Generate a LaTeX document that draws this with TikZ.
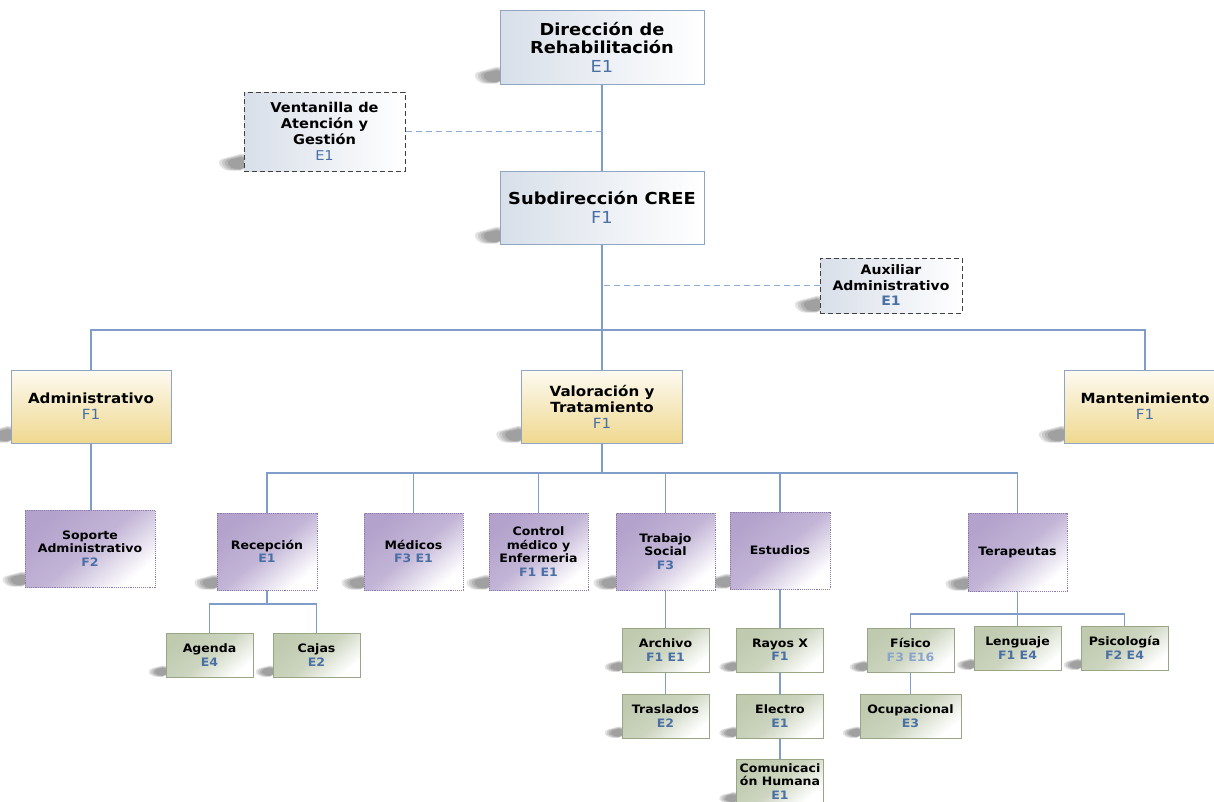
\documentclass[tikz,border=0pt]{standalone}
\usepackage{fontspec}
\setmainfont{DejaVu Sans}[FakeStretch=1.08]
\usetikzlibrary{calc,backgrounds}
\definecolor{lineblue}{HTML}{7F9DC8}
\definecolor{dashblue}{HTML}{8FAAD4}
\definecolor{codeblue}{HTML}{4A6FA5}
\definecolor{lightcode}{HTML}{8AA4CC}
\definecolor{topborder}{HTML}{8FA5C2}
\definecolor{topfill}{HTML}{D8DFE9}
\definecolor{yelfill}{HTML}{EFD88F}
\definecolor{purfill}{HTML}{B3A2CC}
\definecolor{purborder}{HTML}{8C7BAA}
\definecolor{grnfill}{HTML}{BFCAAF}
\definecolor{grnborder}{HTML}{98A687}
\newcommand\cn[1]{{\mdseries\color{codeblue}#1}}
\newcommand\cb[1]{{\color{codeblue}#1}}
\newcommand\boxshadow[2]{%
  \foreach \k in {0,1,2,3}{%
    \fill[black, opacity=0.11, rounded corners=5pt]
      ($(#1.south west)+(2,{-(19-1.2*\k)*#2})$) --
      ($(#1.south west)+({(-27+3*\k)*#2},{-11*#2})$) --
      ($(#1.south west)+({(-20+2.5*\k)*#2},{-(1+0.5*\k)*#2})$) --
      ($(#1.south west)+(2,{-(1+0.5*\k)*#2})$) -- cycle;}}
\tikzset{
  every node/.style={align=center, inner sep=1pt},
  topbox/.style={draw=topborder, line width=1pt, left color=topfill, right color=white,
    font=\fontsize{16.5}{18.5}\selectfont\bfseries},
  sidebox/.style={draw=black!75, dash pattern=on 5pt off 3pt, line width=1pt, left color=topfill, right color=white,
    font=\fontsize{13.5}{16}\selectfont\bfseries},
  yelbox/.style={draw=topborder, line width=1pt, top color=yelfill!12, bottom color=yelfill,
    font=\fontsize{14}{16}\selectfont\bfseries},
  purbox/.style={draw=purborder, densely dotted, line width=0.9pt, top color=purfill,
    bottom color=white, middle color=purfill!80, shading angle=40, font=\fontsize{11.6}{13.5}\selectfont\bfseries},
  grnbox/.style={draw=grnborder, line width=1pt, top color=grnfill, bottom color=white,
    middle color=grnfill!80, shading angle=40, font=\fontsize{11.6}{13.5}\selectfont\bfseries},
  conn/.style={draw=lineblue, line width=1.1pt},
  dconn/.style={draw=dashblue, line width=1.2pt, dash pattern=on 6pt off 4pt},
}
\begin{document}
\begin{tikzpicture}[x=1pt,y=-1pt]
\useasboundingbox (0,0) rectangle (1214,801);
% level 0
\node[topbox, minimum width=204, minimum height=74] (dir) at (602,47) {Dirección de\\Rehabilitación\\\cn{E1}};
\node[sidebox, minimum width=161, minimum height=79] (ven) at (324.5,131.5) {Ventanilla de\\Atención y\\Gestión\\\cn{E1}};
\node[topbox, minimum width=204, minimum height=73] (sub) at (602,207.5) {Subdirección CREE\\\cn{F1}};
\node[sidebox, minimum width=142, minimum height=55, font=\fontsize{13}{15.5}\selectfont\bfseries] (aux) at (891,285.5) {Auxiliar\\Administrativo\\\cb{E1}};
% level 1
\node[yelbox, minimum width=160, minimum height=73] (adm) at (91,406.5) {Administrativo\\\cn{F1}};
\node[yelbox, minimum width=161, minimum height=73] (val) at (602,406.5) {Valoración y\\Tratamiento\\\cn{F1}};
\node[yelbox, minimum width=162, minimum height=73] (man) at (1145,406.5) {Mantenimiento\\\cn{F1}};
% level 2
\node[purbox, minimum width=130, minimum height=77] (sop) at (90,548.5) {Soporte\\Administrativo\\\cb{F2}};
\node[purbox, minimum width=100, minimum height=77] (rec) at (267,551.5) {Recepción\\\cb{E1}};
\node[purbox, minimum width=99, minimum height=77] (med) at (413.5,551.5) {Médicos\\\cb{F3 E1}};
\node[purbox, minimum width=99, minimum height=77] (ctl) at (538.5,551.5) {Control\\médico y\\Enfermeria\\\cb{F1 E1}};
\node[purbox, minimum width=99, minimum height=77] (tra) at (665.5,551.5) {Trabajo\\Social\\\cb{F3}};
\node[purbox, minimum width=100, minimum height=77] (est) at (780,550.5) {Estudios};
\node[purbox, minimum width=99, minimum height=78] (ter) at (1017.5,552) {Terapeutas};
% level 3
\node[grnbox, minimum width=87, minimum height=44] (age) at (209.5,655) {Agenda\\\cb{E4}};
\node[grnbox, minimum width=87, minimum height=44] (caj) at (316.5,655) {Cajas\\\cb{E2}};
\node[grnbox, minimum width=87, minimum height=44] (arc) at (665.5,650) {Archivo\\\cb{F1 E1}};
\node[grnbox, minimum width=87, minimum height=44] (tras) at (665.5,716) {Traslados\\\cb{E2}};
\node[grnbox, minimum width=87, minimum height=44] (ray) at (780,650) {Rayos X\\\cb{F1}};
\node[grnbox, minimum width=87, minimum height=44] (ele) at (780,716) {Electro\\\cb{E1}};
\node[grnbox, minimum width=87, minimum height=44] (com) at (780,781.5) {Comunicaci\\ón Humana\\\cb{E1}};
\node[grnbox, minimum width=87, minimum height=44] (fis) at (910.5,650) {Físico\\{\color{lightcode}F3 E16}};
\node[grnbox, minimum width=87, minimum height=44] (len) at (1017.5,648) {Lenguaje\\\cb{F1 E4}};
\node[grnbox, minimum width=87, minimum height=44] (psi) at (1124.5,648) {Psicología\\\cb{F2 E4}};
\node[grnbox, minimum width=101, minimum height=44] (ocu) at (910.5,716) {Ocupacional\\\cb{E3}};
% shadows
\begin{scope}[on background layer]
\foreach \n in {dir,ven,sub,aux,adm,val,man}{\boxshadow{\n}{1}}
\foreach \n in {sop,rec,med,ctl,tra,est,ter}{\boxshadow{\n}{0.9}}
\foreach \n in {age,caj,arc,tras,ray,ele,com,fis,len,psi,ocu}{\boxshadow{\n}{0.7}}
\end{scope}
% connectors
\coordinate (b1) at (602,330);
\coordinate (b2) at (602,473);
\coordinate (b3) at (267,604);
\coordinate (b4) at (1017.5,614);
\draw[conn] (dir.south) -- (sub.north);
\draw[dconn] (ven.east) -- (ven.east -| dir.south);
\draw[dconn] (aux.west) -- (aux.west -| sub.south);
\draw[conn] (sub.south) -- (val.north);
\draw[conn] (adm.north) |- (b1) -| (man.north);
\draw[conn] (adm.south) -- (adm.south |- sop.north);
\draw[conn] (val.south) -- (b2);
\draw[conn] (rec.north) |- (b2) -| (ter.north);
\draw[conn] (med.north) -- (med.north |- b2);
\draw[conn] (ctl.north) -- (ctl.north |- b2);
\draw[conn] (tra.north) -- (tra.north |- b2);
\draw[conn] (est.north) -- (est.north |- b2);
\draw[conn] (rec.south) -- (b3);
\draw[conn] (age.north) |- (b3) -| (caj.north);
\draw[conn] (tra.south) -- (arc.north);
\draw[conn] (arc.south) -- (tras.north);
\draw[conn] (est.south) -- (ray.north);
\draw[conn] (ray.south) -- (ele.north);
\draw[conn] (ele.south) -- (com.north);
\draw[conn] (ter.south) -- (b4);
\draw[conn] (fis.north) |- (b4) -| (psi.north);
\draw[conn] (len.north) -- (len.north |- b4);
\draw[conn] (fis.south) -- (ocu.north);
\end{tikzpicture}
\end{document}
